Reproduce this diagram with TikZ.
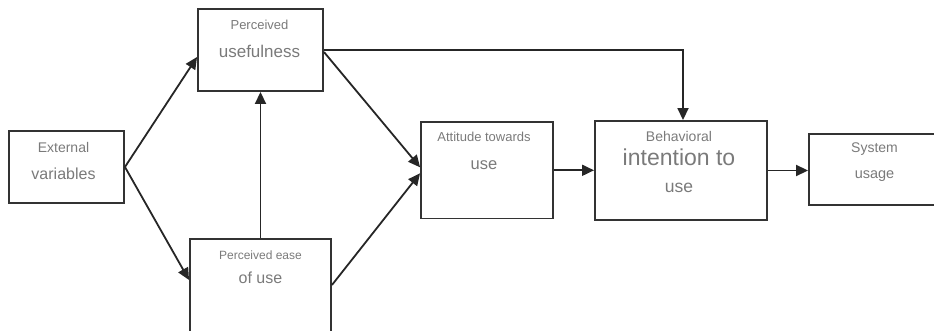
\documentclass[tikz,border=0pt]{standalone}
\usepackage{fontspec}
\setmainfont{Liberation Sans}
\usetikzlibrary{positioning,arrows.meta}

\newcommand{\fs}[2]{{\fontsize{#1}{#1}\selectfont #2}}

\begin{document}
\begin{tikzpicture}[x=1pt, y=-1pt,
  box/.style={rectangle, draw=black!80, line width=1.9pt, inner sep=0},
  txt/.style={align=center, inner sep=0, text=black!52},
  arr/.style={-{Triangle[length=12pt,width=11pt]}, draw=black!85, line width=1.8pt}]
\path[use as bounding box, clip] (0,0) rectangle (934,331);

\node[box, minimum width=115pt, minimum height=72pt](ext) at (66.5,167) {};
\node[box, minimum width=125pt, minimum height=82pt](pu) at (260.5,50) {};
\node[box, minimum width=141pt, minimum height=106pt](peou) at (260.5,292) {};
\node[box, minimum width=132pt, minimum height=96.5pt](att) at (487,170.3) {};
\node[box, minimum width=172pt, minimum height=99pt](bi) at (681,170.5) {};
\node[box, minimum width=151pt, minimum height=71pt](sys) at (884.5,169.5) {};

\node[txt, font=\fontsize{14}{27}\selectfont](extText)[below=11.8pt of ext.north, xshift=-3pt]{\fs{14}{External}\\\fs{16}{variables}};
\node[txt, font=\fontsize{13}{28}\selectfont](puText)[below=11.5pt of pu.north, xshift=-1pt]{\fs{13}{Perceived}\\\fs{17}{usefulness}};
\node[txt, font=\fontsize{12}{24}\selectfont](peouText)[below=12.2pt of peou.north]{\fs{12}{Perceived ease}\\\fs{16}{of use}};
\node[txt, font=\fontsize{13}{28}\selectfont](attText)[below=11.2pt of att.north, xshift=-3pt]{\fs{13}{Attitude towards}\\\fs{16.5}{use}};
\node[txt, font=\fontsize{14}{24}\selectfont](biText)[below=11.5pt of bi.north, xshift=-2pt]{\fs{14}{Behavioral}\\\fs{23}{intention to}\\[2.3pt]\fs{17.5}{use}};
\node[txt, font=\fontsize{14}{26}\selectfont](sysText)[below=9pt of sys.north, xshift=-10pt]{\fs{14}{System}\\\fs{14.5}{usage}};

\draw[arr] (ext.east) -- ([yshift=-7pt]pu.west);
\draw[arr] (ext.east) -- ([yshift=12pt]peou.west);
\draw[arr] (peou.north) -- (pu.south);
\draw[arr] ([yshift=-2pt]pu.east) -- ([yshift=3pt]att.west);
\draw[arr] ([yshift=7pt]peou.east) -- ([yshift=-3pt]att.west);
\draw[arr] (pu.east) -| ([xshift=2pt]bi.north);
\draw[arr] (att.east) -- (att.east -| bi.west);
\draw[arr] (bi.east) -- (bi.east -| sys.west);

\end{tikzpicture}
\end{document}
